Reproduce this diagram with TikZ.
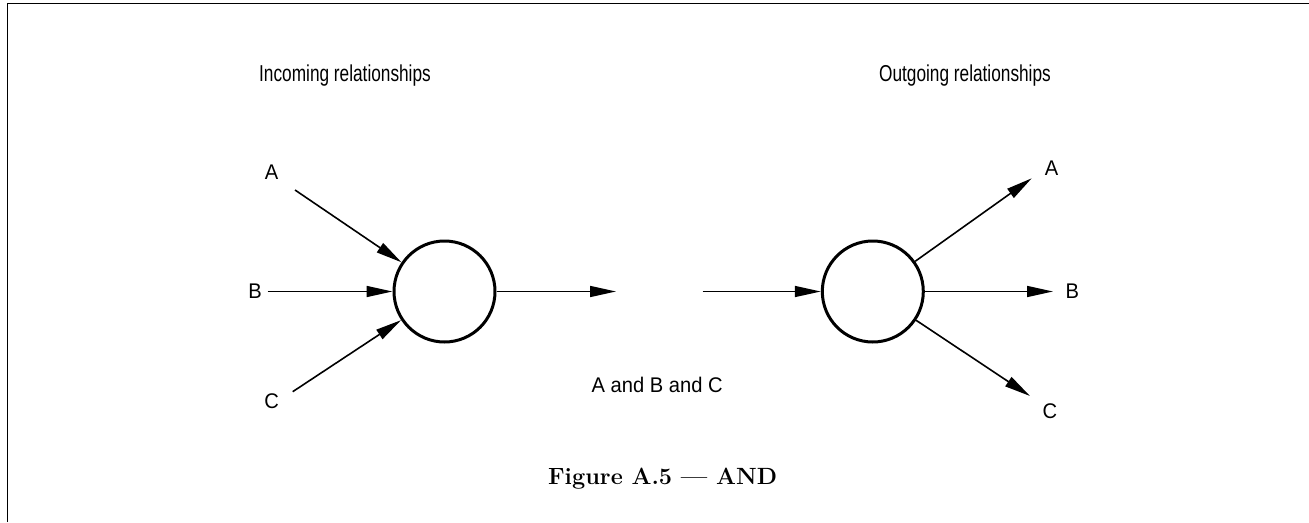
\documentclass[tikz,border=0pt]{standalone}
\usepackage{fontspec}
\usetikzlibrary{arrows.meta}
\newfontfamily\headfont[FakeStretch=0.75]{Liberation Sans}
\newfontfamily\labfont[FakeStretch=0.95]{Liberation Sans}

\tikzset{
  gate/.style={circle, draw, line width=3pt, minimum size=101pt, inner sep=0pt},
  rel/.style={line width=1.6pt, -{Triangle[length=26pt,width=11pt]}},
  heading/.style={font=\headfont\fontsize{23}{27}\selectfont, inner sep=0pt},
  letter/.style={font=\labfont\fontsize{21.2}{25}\selectfont, inner sep=0pt, anchor=base},
  caption/.style={font=\fontsize{23.5}{28}\selectfont\bfseries, inner sep=0pt, anchor=base},
  frameline/.style={line width=1.8pt}
}

\begin{document}
\begin{tikzpicture}[x=1pt, y=-1pt]
  \useasboundingbox (0,0) rectangle (1309,522);

  % open frame: top and left edges
  \coordinate (f1) at (7.5,522);
  \coordinate (f2) at (7.5,3.5);
  \coordinate (f3) at (1309,3.5);
  \draw[frameline] (f1) -- (f2) -- (f3);

  % headings
  \node[heading, anchor=base west] (hin) at (259,81) {Incoming relationships};
  \node[heading, anchor=base east] (hout) at (1051,81) {Outgoing relationships};

  % AND junctions
  \node[gate] (L) at (444.5,291.5) {};
  \node[gate] (R) at (872.8,291.5) {};

  % incoming side
  \node[letter] (inA) at (271.7,179) {A};
  \node[letter] (inB) at (255,298.3) {B};
  \node[letter] (inC) at (271.7,408) {C};
  \coordinate (sA) at (295,190);
  \coordinate (sB) at (267.7,291.5);
  \coordinate (sC) at (292.7,391.7);
  \draw[rel] (sA) -- (L);
  \draw[rel] (sB) -- (L);
  \draw[rel] (sC) -- (L);
  \coordinate (outL) at (616,291.5);
  \draw[rel] (L) -- (outL);

  % outgoing side
  \coordinate (inR) at (702.7,291.5);
  \draw[rel] (inR) -- (R);
  \coordinate (tA) at (1031.7,178.3);
  \coordinate (tB) at (1053,291.5);
  \coordinate (tC) at (1030,396);
  \draw[rel] (R) -- (tA);
  \draw[rel] (R) -- (tB);
  \draw[rel] (R) -- (tC);
  \node[letter] (outA) at (1051.7,175) {A};
  \node[letter] (outB) at (1072.3,298.3) {B};
  \node[letter] (outC) at (1050,418.3) {C};

  % condition text and caption
  \node[letter, anchor=base west] (cond) at (591.5,392.3) {A and B and C};
  \node[caption] (cap) at (662.6,484.3) {Figure A.5 — AND};
\end{tikzpicture}
\end{document}
